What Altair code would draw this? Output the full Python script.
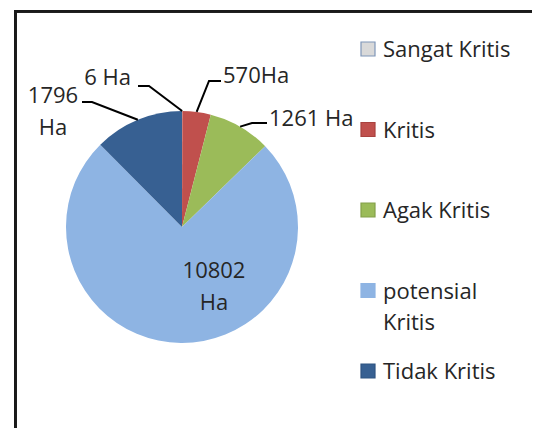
import math
import altair as alt
import pandas as pd

# ---------------- data ----------------
categories = ["Sangat Kritis", "Kritis", "Agak Kritis", "potensial Kritis", "Tidak Kritis"]
areas_ha = [6, 570, 1261, 10802, 1796]
slice_labels = ["6 Ha", "570Ha", "1261 Ha", "10802\nHa", "1796\nHa"]
legend_labels = ["Sangat Kritis", "Kritis", "Agak Kritis", "potensial\nKritis", "Tidak Kritis"]

# ---------------- styles / layout ----------------
colors = ["#D9D9D9", "#C0504D", "#9BBB59", "#8EB4E3", "#376092"]
legend_strokes = ["#7F96B8", "#A9423F", "#84A04A", "#8EB4E3", "#2F5482"]
FONT = "Open Sans"
FS = 22
M = 8                      # page margin (group origin offset)
CX, CY, R = 182, 227, 116  # pie centre / radius in page px
W, H = 524, 420

# label anchor (page px, baseline) and alignment
label_pos = [(131, 85, "right"), (223, 83, "left"), (269, 126, "left"),
             (214, 278, "center"), (53, 103, "center")]
# leader: elbow point and end point (page px); None = no leader
leader_pts = [((149, 86), (138, 86)), ((209, 81), (221, 81)),
              ((252, 123), (267, 123)), None, ((92, 102), (82, 102))]

# ---------------- tables ----------------
pie_df = pd.DataFrame({"cat": categories, "value": areas_ha, "idx": range(len(categories))})

total = sum(areas_ha)
cum = 0.0
lab_rows, lead_rows = [], []
for i, (v, t) in enumerate(zip(areas_ha, slice_labels)):
    mid = (cum + v / 2) / total * 2 * math.pi
    cum += v
    lx, ly, al = label_pos[i]
    lab_rows.append({"id": i, "text": t, "px": lx - M, "py": ly - M, "align": al})
    if leader_pts[i] is not None:
        sx = CX + R * math.sin(mid)
        sy = CY - R * math.cos(mid)
        (ex, ey), (tx, ty) = leader_pts[i]
        for k, (x, y) in enumerate([(sx, sy), (ex, ey), (tx, ty)]):
            lead_rows.append({"id": i, "k": k, "px": x - M, "py": y - M})
lab_df = pd.DataFrame(lab_rows)
lead_df = pd.DataFrame(lead_rows)

leg_df = pd.DataFrame({
    "cat": categories,
    "text": legend_labels,
    "sx": [368 - M] * 5,
    "sy": [57 - 8 + i * 80.5 - M for i in range(5)],
    "tx": [383 - M] * 5,
    "ty": [57 + i * 80.5 - M for i in range(5)],
})

color_scale = alt.Scale(domain=categories, range=colors)

pie = alt.Chart(pie_df).mark_arc(outerRadius=R, stroke=None).encode(
    theta=alt.Theta("value:Q", stack=True),
    color=alt.Color("cat:N", scale=color_scale, legend=None),
    order=alt.Order("idx:Q"),
    x=alt.value(CX - M),
    y=alt.value(CY - M),
)

leaders = alt.Chart(lead_df).mark_line(color="#000000", strokeWidth=2).encode(
    x=alt.X("px:Q", scale=None, axis=None),
    y=alt.Y("py:Q", scale=None, axis=None),
    detail="id:N",
    order="k:Q",
)

def label_layer(al):
    return alt.Chart(lab_df).transform_filter(
        alt.datum.align == al
    ).mark_text(
        align=al, baseline="alphabetic", font=FONT, fontSize=FS,
        color="#262626", lineBreak="\n", lineHeight=32,
    ).encode(
        x=alt.X("px:Q", scale=None, axis=None),
        y=alt.Y("py:Q", scale=None, axis=None),
        text="text:N",
    )

leg_sw = alt.Chart(leg_df).mark_square(size=196, strokeWidth=1.2, opacity=1).encode(
    x=alt.X("sx:Q", scale=None, axis=None),
    y=alt.Y("sy:Q", scale=None, axis=None),
    fill=alt.Fill("cat:N", scale=color_scale, legend=None),
    stroke=alt.Stroke("cat:N", scale=alt.Scale(domain=categories, range=legend_strokes), legend=None),
)

leg_tx = alt.Chart(leg_df).mark_text(
    align="left", baseline="alphabetic", font=FONT, fontSize=FS,
    color="#262626", lineBreak="\n", lineHeight=31,
).encode(
    x=alt.X("tx:Q", scale=None, axis=None),
    y=alt.Y("ty:Q", scale=None, axis=None),
    text="text:N",
)

frame_left = alt.Chart(pie_df).mark_rule(color="#1A1A1A", strokeWidth=2.5).encode(
    x=alt.value(15.3 - M), y=alt.value(10 - M), y2=alt.value(H),
)
frame_top = alt.Chart(pie_df).mark_rule(color="#1A1A1A", strokeWidth=2.5).encode(
    x=alt.value(14 - M), x2=alt.value(W), y=alt.value(11.2 - M),
)

chart = alt.layer(
    pie, leaders, label_layer("right"), label_layer("left"), label_layer("center"),
    leg_sw, leg_tx, frame_left, frame_top,
).resolve_scale(color="independent", x="independent", y="independent").properties(
    width=W, height=H, padding=0, autosize=alt.AutoSizeParams(type="none"),
    background="white",
).configure_view(stroke=None)

chart.save("out.html", embed_options={"renderer": "svg", "actions": False})
